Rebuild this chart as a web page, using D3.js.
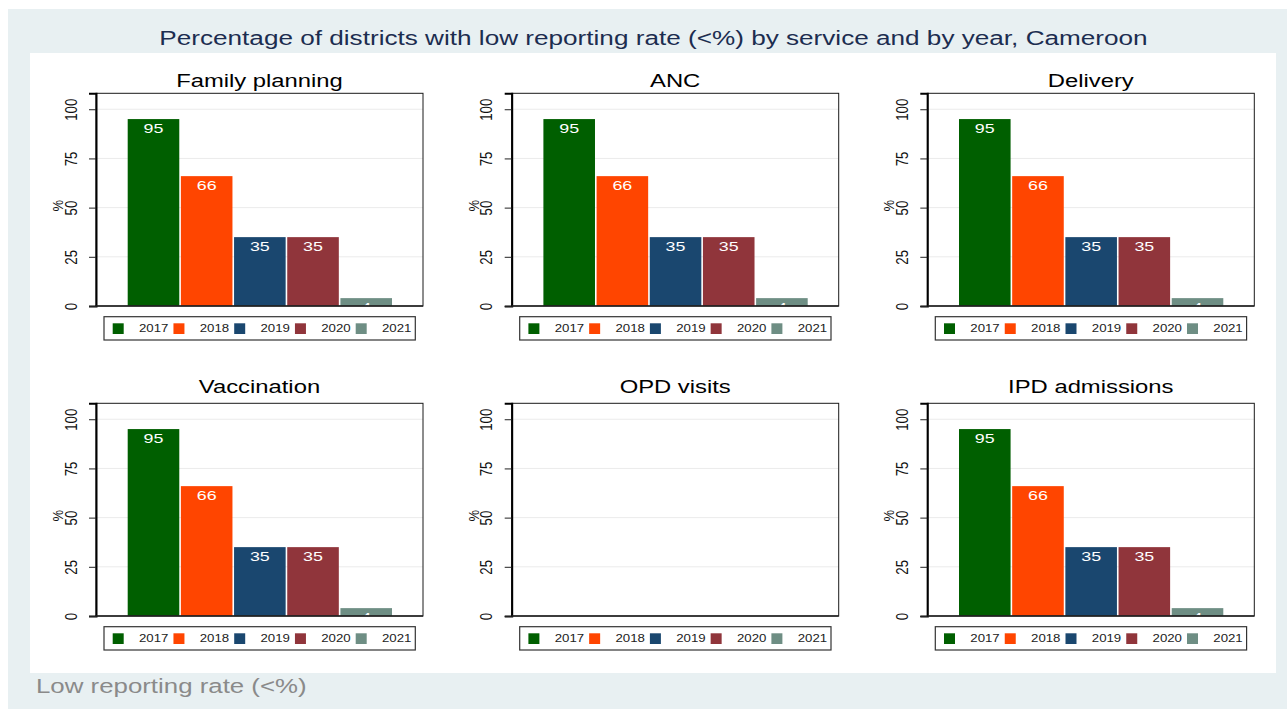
<!DOCTYPE html>
<html>
<head>
<meta charset="utf-8">
<script src="https://cdn.jsdelivr.net/npm/d3@7"></script>
<style>
  html, body { margin: 0; padding: 0; background: #ffffff; }
  svg { display: block; font-family: "Liberation Sans", Arial, Helvetica, sans-serif; }
</style>
</head>
<body>
<svg id="chart" width="1287" height="709"></svg>
<script>
// Reporting years and series colours
const years = ["2017", "2018", "2019", "2020", "2021"];
const yearColors = ["#005f00", "#ff4500", "#1a476f", "#90353b", "#6e8e84"];

// Service names (panel order, row by row)
const services = ["Family planning", "ANC", "Delivery", "Vaccination", "OPD visits", "IPD admissions"];

// Percentage of districts with low reporting rate, per service and year
const familyPlanning = [95, 66, 35, 35, 4];
const anc            = [95, 66, 35, 35, 4];
const delivery       = [95, 66, 35, 35, 4];
const vaccination    = [95, 66, 35, 35, 4];
const opdVisits      = [];               // no data reported
const ipdAdmissions  = [95, 66, 35, 35, 4];
const serviceValues = [familyPlanning, anc, delivery, vaccination, opdVisits, ipdAdmissions];

// Y axis ticks
const yTicks = [0, 25, 50, 75, 100];

const titleText = "Percentage of districts with low reporting rate (<%) by service and by year, Cameroon";
const noteText = "Low reporting rate (<%)";

const svg = d3.select("#chart");

// Stretch text horizontally by a factor (wide-set glyphs)
function stretch(sel, s) {
  sel.each(function () {
    const w = this.getComputedTextLength();
    d3.select(this).attr("textLength", w * s).attr("lengthAdjust", "spacingAndGlyphs");
  });
}

// Outer graph region and inner plot region
svg.append("rect").attr("x", 8).attr("y", 9).attr("width", 1279).attr("height", 700).attr("fill", "#e8f0f2");
svg.append("rect").attr("x", 30).attr("y", 53).attr("width", 1246).attr("height", 620).attr("fill", "#ffffff");

// Overall title and note
svg.append("text").attr("x", 653.5).attr("y", 45).attr("text-anchor", "middle")
  .attr("font-size", 19.5).attr("fill", "#1c2d50").text(titleText)
  .call(stretch, 1.34);
svg.append("text").attr("x", 36).attr("y", 693)
  .attr("font-size", 20.5).attr("fill", "#8a8a8a").text(noteText)
  .call(stretch, 1.26);

// Panel geometry
const colX = [96, 511.7, 927.3];
const rowY = [93.3, 403.3];
const titleOffset = [-6.3, -10.6];
const plotW = 327, plotH = 212.7;

services.forEach((name, i) => {
  const row = Math.floor(i / 3);
  const px = colX[i % 3], py = rowY[row];
  const g = svg.append("g").attr("transform", `translate(${px},${py})`);
  const values = serviceValues[i];

  const y = d3.scaleLinear().domain([0, 108.1]).range([plotH, 0]);
  const x = d3.scaleBand().domain(years).range([31.7, 296]).paddingInner(0.03).paddingOuter(0);

  const clipId = "clip" + i;
  g.append("clipPath").attr("id", clipId)
    .append("rect").attr("x", 0).attr("y", 0).attr("width", plotW).attr("height", plotH);

  // gridlines
  g.append("g").selectAll("line").data(yTicks.filter(t => t > 0)).join("line")
    .attr("x1", 0).attr("x2", plotW)
    .attr("y1", d => y(d)).attr("y2", d => y(d))
    .attr("stroke", "#ebebeb").attr("stroke-width", 1);

  // bars and value labels
  const data = values.map((v, k) => ({ year: years[k], value: v, color: yearColors[k] }));
  const inner = g.append("g").attr("clip-path", `url(#${clipId})`);
  inner.selectAll("rect.bar").data(data).join("rect").attr("class", "bar")
    .attr("x", d => x(d.year)).attr("width", x.bandwidth())
    .attr("y", d => y(d.value)).attr("height", d => y(0) - y(d.value))
    .attr("fill", d => d.color);
  inner.selectAll("text.lbl").data(data).join("text").attr("class", "lbl")
    .attr("x", d => x(d.year) + x.bandwidth() / 2)
    .attr("y", d => y(d.value) + 14)
    .attr("text-anchor", "middle").attr("font-size", 13.5).attr("fill", "#ffffff")
    .text(d => d.value)
    .call(stretch, 1.32);

  // frame
  g.append("rect").attr("x", 0).attr("y", 0).attr("width", plotW).attr("height", plotH)
    .attr("fill", "none").attr("stroke", "#1a1a1a").attr("stroke-width", 1);

  // y axis
  const yAxis = d3.axisLeft(y).tickValues(yTicks).tickSize(7).tickPadding(0).tickFormat(d3.format("d"));
  const ag = g.append("g").call(yAxis);
  ag.select(".domain").attr("stroke", "#000").attr("stroke-width", 2);
  ag.selectAll(".tick line").attr("stroke", "#222");
  ag.selectAll(".tick text")
    .attr("x", null).attr("dy", null)
    .attr("text-anchor", "middle").attr("font-size", 14).attr("fill", "#111")
    .attr("font-family", "Liberation Sans, Arial, sans-serif")
    .attr("transform", "translate(-19.5,0) rotate(-90) scale(0.95,1.15)");
  // bottom axis line
  g.append("line").attr("x1", 0).attr("x2", plotW).attr("y1", plotH).attr("y2", plotH)
    .attr("stroke", "#222").attr("stroke-width", 1.5);

  // y axis title
  g.append("text").attr("transform", `translate(-33,${plotH / 2 + 6}) rotate(-90) scale(1,1.1)`)
    .attr("text-anchor", "middle").attr("font-size", 13).attr("fill", "#111").text("%");

  // panel title
  g.append("text").attr("x", plotW / 2).attr("y", titleOffset[row]).attr("text-anchor", "middle")
    .attr("font-size", 17.5).attr("fill", "#000").text(name)
    .call(stretch, 1.36);

  // legend
  const lg = g.append("g").attr("transform", `translate(8,${plotH + 10.7})`);
  lg.append("rect").attr("x", 0).attr("y", 0).attr("width", 311.3).attr("height", 23.3)
    .attr("fill", "#ffffff").attr("stroke", "#333").attr("stroke-width", 1.2);
  const item = lg.selectAll("g.item").data(years).join("g").attr("class", "item")
    .attr("transform", (d, k) => `translate(${8.7 + k * 60.75},0)`);
  item.append("rect").attr("x", 0).attr("y", 6.6).attr("width", 11).attr("height", 10.7)
    .attr("fill", (d, k) => yearColors[k]);
  item.append("text").attr("x", 26.3).attr("y", 15).attr("font-size", 11.5).attr("fill", "#222")
    .text(d => d)
    .call(stretch, 1.15);
});
</script>
</body>
</html>
